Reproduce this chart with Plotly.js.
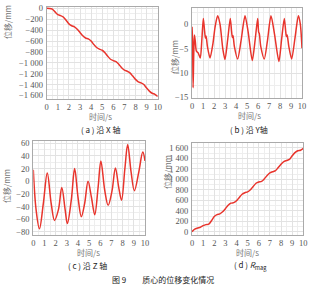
<!DOCTYPE html>
<html><head><meta charset="utf-8">
<script src="https://cdn.plot.ly/plotly-3.0.1.min.js"></script>
<style>html,body{margin:0;padding:0;background:#fff}#c{width:328px;height:289px}</style>
</head><body><div id="c"></div>
<script>
// X displacement (mm)
const tX = [0,0.25,0.5,0.75,1,1.25,1.5,1.75,2,2.25,2.5,2.75,3,3.25,3.5,3.75,4,4.25,4.5,4.75,5,5.25,5.5,5.75,6,6.25,6.5,6.75,7,7.25,7.5,7.75,8,8.25,8.5,8.75,9,9.25,9.5,9.75,10];
const dispX = [0,-2,-15,-65,-115,-135,-160,-220,-285,-320,-340,-385,-445,-505,-545,-560,-600,-665,-720,-750,-770,-815,-880,-935,-960,-980,-1030,-1090,-1135,-1155,-1185,-1245,-1305,-1350,-1370,-1400,-1465,-1520,-1560,-1580,-1620];
// Y displacement (mm)
const tY = [0,0.05,0.1,0.16,0.22,0.3,0.4,0.55,0.75,0.9,1.03,1.15,1.22,1.28,1.4,1.64,1.9,2.1,2.33,2.55,2.8,3.0,3.25,3.48,3.6,3.67,3.73,3.85,4.15,4.45,4.82,5.1,5.48,5.75,5.97,6.06,6.12,6.25,6.57,6.85,7.18,7.5,7.9,8.15,8.39,8.52,8.58,8.65,8.8,9.06,9.35,9.67,9.85,10];
const dispY = [-0.5,-3,-13,-6,-2.2,-3.5,-5.5,-5.8,-6.9,-3,1.2,-1.5,-2.8,-2.4,-4.5,-6.9,-4,-0.5,1.75,0,-5,-7.2,-3,1.2,-1.5,-2.7,-2.3,-4.5,-7.1,-3.5,1.75,-1.5,-7.4,-3,1.2,-1.6,-1.9,-4.5,-7.1,-3.5,1.75,-2,-7.6,-3,1.2,-1.5,-2.5,-2.2,-4.5,-7.1,-3,1.75,0,-4.9];
// Z displacement (mm)
const tZ = [0,0.25,0.55,0.9,1.25,1.6,1.9,2.25,2.55,2.85,3.05,3.4,3.7,4.0,4.3,4.6,4.9,5.2,5.5,5.8,6.05,6.4,6.7,7.05,7.35,7.65,7.9,8.2,8.45,8.75,9.05,9.45,9.8,10];
const dispZ = [18,-45,-75,-35,13,-35,-62,-45,-10,-45,-67,-30,20,-25,-56,-35,0,-25,-53,-10,32,-15,-38,-15,21,-10,-30,20,58,15,-15,15,46,32];
// R_mag (mm)
const tR = tX;
const dispR = [0,50,70,85,115,135,145,210,290,325,340,380,440,505,545,555,590,655,715,745,760,800,865,925,950,960,1010,1075,1125,1145,1165,1225,1290,1340,1360,1380,1450,1510,1545,1555,1590];

const W=328,H=289;
const fx=p=>p/W, fy=p=>1-p/H;
const red='#e8342c';
const grid='#e2e2e2', minorGrid='#eeeeee';
const tickFont={family:'Liberation Serif, Times New Roman, serif',size:8.5,color:'#555'};

function xa(dom,anchor){return {domain:[fx(dom[0]),fx(dom[1])],anchor:anchor,range:[0,10],dtick:1,tick0:0,
  showgrid:true,gridcolor:grid,gridwidth:1,minor:{dtick:0.5,showgrid:true,gridcolor:minorGrid},
  showline:true,mirror:true,linecolor:'#aaa',linewidth:1,zeroline:false,ticks:'',tickfont:tickFont,ticklen:0,fixedrange:true};}
function ya(dom,anchor,range,dt,mdt){return {domain:[fy(dom[1]),fy(dom[0])],anchor:anchor,range:range,dtick:dt,tick0:0,
  showgrid:true,gridcolor:grid,gridwidth:1,minor:{dtick:mdt,showgrid:true,gridcolor:minorGrid},
  showline:true,mirror:true,linecolor:'#aaa',linewidth:1,zeroline:false,ticks:'',tickfont:tickFont,
  separatethousands:true,exponentformat:'none',ticklabelstandoff:1,fixedrange:true};}

const line={color:red,width:1.5};
const data=[
 {x:tX,y:dispX,type:'scatter',mode:'lines',line:Object.assign({shape:'spline',smoothing:0.8},line),xaxis:'x',yaxis:'y'},
 {x:tY,y:dispY,type:'scatter',mode:'lines',line:Object.assign({shape:'spline',smoothing:0.7},line),xaxis:'x2',yaxis:'y2'},
 {x:tZ,y:dispZ,type:'scatter',mode:'lines',line:Object.assign({shape:'spline',smoothing:1},line),xaxis:'x3',yaxis:'y3'},
 {x:tR,y:dispR,type:'scatter',mode:'lines',line:Object.assign({shape:'spline',smoothing:0.8},line),xaxis:'x4',yaxis:'y4'}
];

const cjk='Noto Sans CJK SC, sans-serif';
const lab={family:cjk,size:8,color:'#777'};
const cap={family:cjk,size:8,color:'#222'};
function ann(text,x,y,font,angle){return {text:text,x:fx(x),y:fy(y),xref:'paper',yref:'paper',showarrow:false,font:font,textangle:angle||0,xanchor:'center',yanchor:'middle',borderpad:0};}

const layout={
 width:W,height:H,margin:{l:0,r:0,t:0,b:0},paper_bgcolor:'#fff',plot_bgcolor:'#fff',showlegend:false,
 separators:'. ',
 xaxis:xa([46.7,157.7],'y'), yaxis:ya([6.7,98.7],'x',[-1660,30],200,100),
 xaxis2:xa([192,302],'y2'), yaxis2:ya([8.3,97.5],'x2',[-15,3.3],5,2.5),
 xaxis3:xa([33.3,145],'y3'), yaxis3:ya([141,235],'x3',[-85,63.5],20,10),
 xaxis4:xa([192,303.3],'y4'), yaxis4:ya([142.7,235],'x4',[-63,1700],200,100),
 annotations:[
  ann('时间/s',100,116.5,lab), ann('时间/s',249,115,lab), ann('时间/s',88,252,lab), ann('时间/s',247,252,lab),
  ann('位移/mm',7,22,lab,-90), ann('位移/mm',174,57,lab,-90), ann('位移/mm',6,186,lab,-90), ann('位移/mm',167,172,lab,-90),
  ann('( a ) 沿 X 轴',100,129.5,cap), ann('( b ) 沿 Y轴',249,129,cap), ann('( c ) 沿 Z 轴',87,265,cap),
  ann('( d ) <i>R</i><sub>mag</sub>',250,265,cap),
  ann('图 9　　质心的位移变化情况',163,279,cap)
 ]
};
Plotly.newPlot('c',data,layout,{staticPlot:true,displayModeBar:false});
</script></body></html>
